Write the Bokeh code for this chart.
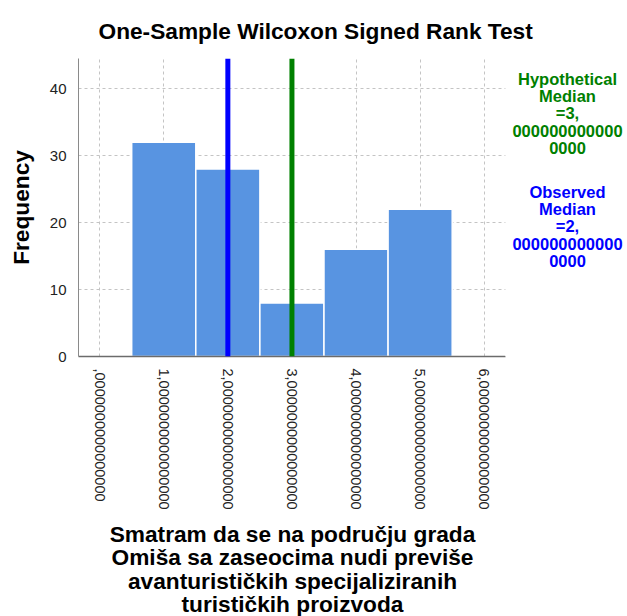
import math
from bokeh.plotting import figure
from bokeh.layouts import column
from bokeh.models import Label, Span, Range1d, FixedTicker, BoxAnnotation
from bokeh.embed import file_html
from bokeh.resources import INLINE

# ---- data ----
categories = [1, 2, 3, 4, 5]
frequencies = [32, 28, 8, 16, 22]
x_ticks = [0, 1, 2, 3, 4, 5, 6]
x_tick_labels = [
    ",0000000000000000",
    "1,0000000000000000",
    "2,0000000000000000",
    "3,0000000000000000",
    "4,0000000000000000",
    "5,0000000000000000",
    "6,0000000000000000",
]
y_ticks = [0, 10, 20, 30, 40]
hypothetical_median = 3
observed_median = 2
title_text = "One-Sample Wilcoxon Signed Rank Test"
x_label_text = ("Smatram da se na području grada\nOmiša sa zaseocima nudi previše\n"
                "avanturističkih specijaliziranih\nturističkih proizvoda")
y_label_text = "Frequency"
hyp_text = "Hypothetical\nMedian\n=3,\n000000000000\n0000"
obs_text = "Observed\nMedian\n=2,\n000000000000\n0000"

BAR = "#5894e1"
GREEN = "#008000"
BLUE = "#0000ff"

X_LO, X_HI = -0.33, 6.33          # extent of the drawn axis
X_VIEW_END = 8.235                 # frame continues right to hold the median notes
Y_HI = 44.5

p = figure(width=627, height=520, output_backend="svg", toolbar_location=None,
           x_range=Range1d(X_LO, X_VIEW_END), y_range=Range1d(0, Y_HI),
           min_border_left=78, min_border_right=0, min_border_top=58,
           min_border_bottom=164)
p.outline_line_color = None
p.background_fill_color = "white"

# title
p.title.text = title_text
p.title.text_font = "Liberation Sans"
p.title.text_font_style = "bold"
p.title.text_font_size = "22.7px"
p.title.text_color = "black"
p.title.align = "left"
p.title.offset = 20
p.title.standoff = 30

p.vbar(x=categories, top=frequencies, width=1.0, fill_color=BAR,
       line_color="white", line_width=1.5)

p.add_layout(Span(location=observed_median, dimension="height",
                  line_color=BLUE, line_width=5))
p.add_layout(Span(location=hypothetical_median, dimension="height",
                  line_color=GREEN, line_width=5))

# grids
for g in (p.xgrid, p.ygrid):
    g.grid_line_color = "#c4c4c4"
    g.grid_line_dash = "3 3"
    g.grid_line_width = 1
p.xgrid.ticker = FixedTicker(ticks=x_ticks)
p.ygrid.ticker = FixedTicker(ticks=y_ticks)

# white cover right of the plot area (keeps grid lines out of the notes area)
p.add_layout(BoxAnnotation(left=X_HI, fill_color="white", fill_alpha=1.0,
                           line_color=None))

# axes
p.xaxis.bounds = (X_LO, X_HI)
p.xaxis.ticker = FixedTicker(ticks=x_ticks)
p.xaxis.major_label_overrides = {t: s for t, s in zip(x_ticks, x_tick_labels)}
p.xaxis.major_label_orientation = -math.pi / 2
p.yaxis.ticker = FixedTicker(ticks=y_ticks)
for ax in (p.xaxis, p.yaxis):
    ax.major_tick_line_color = None
    ax.minor_tick_line_color = None
    ax.major_label_text_font = "Liberation Sans"
    ax.major_label_text_color = "#222222"
    ax.major_label_standoff = 6
    ax.axis_label_text_font = "Liberation Sans"
    ax.axis_label_text_font_style = "bold"
    ax.axis_label_text_font_size = "22.7px"
    ax.axis_label_text_color = "black"
p.xaxis.major_label_text_font_size = "14.5px"
p.yaxis.major_label_text_font_size = "15px"
p.xaxis.axis_line_color = "#6b6b6b"
p.xaxis.axis_line_width = 1.5
p.yaxis.axis_line_color = "#8a8a8a"

p.yaxis.axis_label = y_label_text
p.yaxis.axis_label_standoff = 13

# median notes (screen units relative to the frame, y up from frame bottom)
note_style = dict(x_units="screen", y_units="screen", text_font="Liberation Sans",
                  text_font_style="bold", text_font_size="16.5px",
                  text_align="center", text_baseline="top", text_line_height=0.97)
p.add_layout(Label(x=489, y=287, text=hyp_text, text_color=GREEN, **note_style))
p.add_layout(Label(x=489, y=174, text=obs_text, text_color=BLUE, **note_style))

# ---- x-axis title strip below the histogram (its frame is aligned with the
# histogram's frame, so x is measured from the y axis) ----
xlab = figure(width=627, height=96, output_backend="svg", toolbar_location=None,
              x_axis_type=None, y_axis_type=None, x_range=Range1d(0, 1),
              y_range=Range1d(0, 1), min_border=0)
xlab.title = None
xlab.outline_line_color = None
xlab.add_layout(Label(x=214, y=96, x_units="screen", y_units="screen",
                      text=x_label_text, text_font="Liberation Sans",
                      text_font_style="bold", text_font_size="22.7px",
                      text_align="center", text_baseline="top",
                      text_line_height=0.91, text_color="black"))

layout = column(p, xlab, spacing=0)

open("out.html", "w").write(file_html(layout, INLINE))
